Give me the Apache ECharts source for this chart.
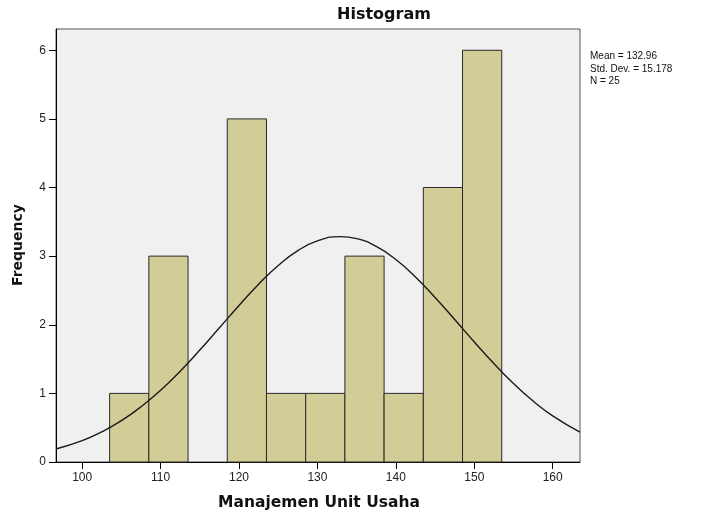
<!DOCTYPE html>
<html>
<head>
<meta charset="utf-8">
<script src="https://cdn.jsdelivr.net/npm/echarts@6/dist/echarts.min.js"></script>
<style>
html,body{margin:0;padding:0;background:#fff;}
#chart{width:701px;height:513px;}
</style>
</head>
<body>
<div id="chart"></div>
<script>
// Histogram bins (lower edges), bin width and frequencies
const binStarts = [103.5, 108.5, 118.5, 123.5, 128.5, 133.5, 138.5, 143.5, 148.5];
const binWidth = 5;
const counts = [1, 3, 5, 1, 1, 3, 1, 4, 6];

// Normal curve (x, frequency)
const curveX = [96.66, 100, 102.5, 105, 107.5, 110, 112.5, 115, 117.5, 120, 122.5, 125, 127.5, 130, 132.96, 135, 137.5, 140, 142.5, 145, 147.5, 150, 152.5, 155, 157.5, 160, 163.48];
const curveY = [0.189, 0.311, 0.439, 0.602, 0.805, 1.046, 1.324, 1.631, 1.956, 2.281, 2.591, 2.863, 3.079, 3.223, 3.285, 3.256, 3.141, 2.950, 2.696, 2.398, 2.076, 1.749, 1.434, 1.145, 0.889, 0.672, 0.434];

// Axis ticks
const xTicks = [100, 110, 120, 130, 140, 150, 160];
const yTicks = [0, 1, 2, 3, 4, 5, 6];

const statsLines = ['Mean = 132.96', 'Std. Dev. = 15.178', 'N = 25'];

const chart = echarts.init(document.getElementById('chart'), null, {renderer: 'canvas'});

const barData = binStarts.map((s, i) => [s, counts[i]]);
const lineData = curveX.map((x, i) => [x, curveY[i]]);

const option = {
  backgroundColor: '#ffffff',
  animation: false,
  grid: {
    left: 56, right: 121, top: 29, bottom: 51,
    show: true, backgroundColor: '#F0F0F0', borderColor: '#555', borderWidth: 1
  },
  xAxis: {
    type: 'value',
    min: 96.66, max: 163.48,
    splitLine: {show: false},
    axisLine: {show: true, onZero: false, lineStyle: {color: '#000', width: 1}},
    axisTick: {show: true, length: 7, customValues: xTicks, lineStyle: {color: '#000'}},
    axisLabel: {customValues: xTicks, color: '#222', fontSize: 12, fontFamily: 'Liberation Sans', margin: 10}
  },
  yAxis: {
    type: 'value',
    min: 0, max: 6.31,
    splitLine: {show: false},
    axisLine: {show: true, lineStyle: {color: '#000', width: 1}},
    axisTick: {show: true, length: 7, customValues: yTicks, lineStyle: {color: '#000'}},
    axisLabel: {customValues: yTicks, color: '#222', fontSize: 12, fontFamily: 'Liberation Sans', margin: 10}
  },
  series: [
    {
      type: 'custom',
      z: 2,
      data: barData,
      renderItem: function (params, api) {
        const start = api.value(0);
        const cnt = api.value(1);
        const p1 = api.coord([start, cnt]);
        const p2 = api.coord([start + binWidth, 0]);
        return {
          type: 'rect',
          shape: {x: p1[0], y: p1[1], width: p2[0] - p1[0], height: p2[1] - p1[1]},
          style: {fill: '#D2CD97', stroke: '#2a2a2a', lineWidth: 1}
        };
      }
    },
    {
      type: 'line',
      z: 5,
      data: lineData,
      smooth: true,
      symbol: 'none',
      lineStyle: {color: '#1a1a1a', width: 1.4},
      clip: true
    }
  ],
  graphic: [
    {type: 'text', x: 384, y: 15, style: {text: 'Histogram', align: 'center', verticalAlign: 'middle', font: 'bold 16px "DejaVu Sans"', fill: '#111'}},
    {type: 'text', x: 319, y: 503, style: {text: 'Manajemen Unit Usaha', align: 'center', verticalAlign: 'middle', font: 'bold 15.5px "DejaVu Sans"', fill: '#111'}},
    {type: 'text', x: 18, y: 245, rotation: Math.PI / 2, style: {text: 'Frequency', align: 'center', verticalAlign: 'middle', font: 'bold 14px "DejaVu Sans"', fill: '#111'}},
    {type: 'text', x: 590, y: 50, style: {text: statsLines.join('\n'), align: 'left', verticalAlign: 'top', font: '10px "Liberation Sans"', lineHeight: 12.5, fill: '#111'}}
  ]
};
chart.setOption(option);
</script>
</body>
</html>
